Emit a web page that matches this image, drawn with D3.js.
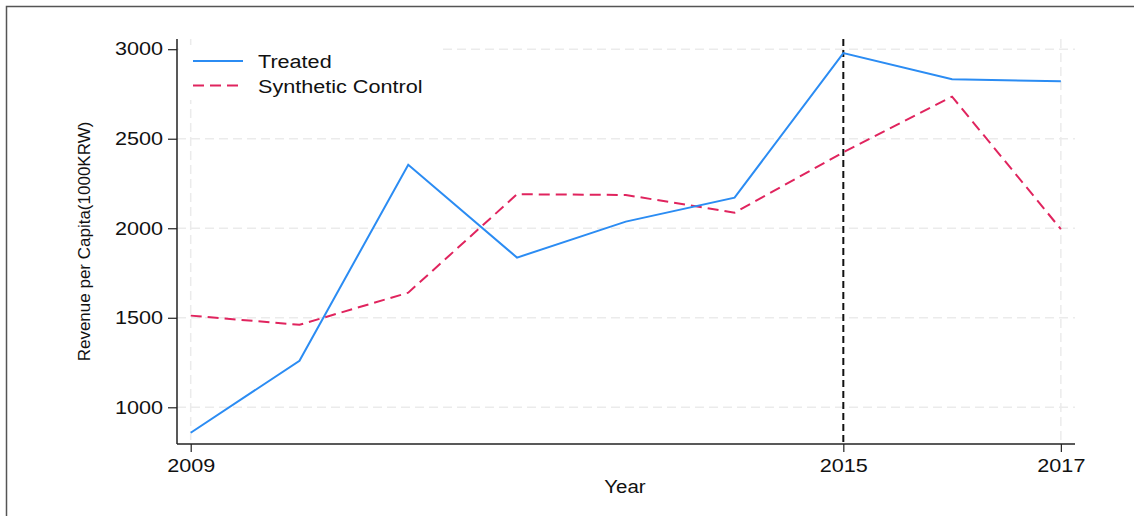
<!DOCTYPE html>
<html>
<head>
<meta charset="utf-8">
<script src="https://cdn.jsdelivr.net/npm/d3@7"></script>
<style>
  html, body { margin: 0; padding: 0; background: #fff; }
  svg { display: block; font-family: "Liberation Sans", Arial, sans-serif; }
</style>
</head>
<body>
<svg id="chart" width="1134" height="516"></svg>
<script>
// Revenue per capita, treated region vs. synthetic control
const years = [2009, 2010, 2011, 2012, 2013, 2014, 2015, 2016, 2017];
const treated = [858, 1260, 2355, 1836, 2037, 2171, 2978, 2832, 2821];
const synthetic = [1512, 1461, 1640, 2190, 2186, 2087, 2424, 2735, 1995];
const yTicks = [1000, 1500, 2000, 2500, 3000];
const xTicks = [2009, 2015, 2017];
const treatmentYear = 2015;
const seriesNames = ["Treated", "Synthetic Control"];

const svg = d3.select("#chart");
const W = 1134, H = 516;
const FONT = "Liberation Sans, Arial, sans-serif";

// widen text glyphs horizontally by a factor
function widen(sel, factor) {
  sel.each(function () {
    const w = this.getComputedTextLength();
    d3.select(this).attr("textLength", w * factor).attr("lengthAdjust", "spacingAndGlyphs");
  });
}

// outer frame
svg.append("rect").attr("x", 6.5).attr("y", 6.5).attr("width", W).attr("height", H)
  .attr("fill", "none").attr("stroke", "#555").attr("stroke-width", 1.5);

const plotLeft = 177, plotRight = 1075, plotTop = 39, plotBottom = 444;

const x = d3.scaleLinear().domain([2008.874, 2017.13]).range([plotLeft, plotRight]);
const y = d3.scaleLinear().domain([795, 3057]).range([plotBottom, plotTop]);

const grid = svg.append("g");
// horizontal gridlines
grid.selectAll("line.h").data(yTicks).join("line")
  .attr("x1", plotLeft).attr("x2", plotRight)
  .attr("y1", d => y(d)).attr("y2", d => y(d))
  .attr("stroke", "#ebebeb").attr("stroke-width", 1.5).attr("stroke-dasharray", "9,5");
// vertical gridlines at the first and last year ticks
grid.selectAll("line.v").data([2009, 2017]).join("line")
  .attr("x1", d => x(d)).attr("x2", d => x(d))
  .attr("y1", plotTop).attr("y2", plotBottom)
  .attr("stroke", "#ebebeb").attr("stroke-width", 1.5).attr("stroke-dasharray", "9,5");

// axes
const yAxis = d3.axisLeft(y).tickValues(yTicks).tickSize(9).tickPadding(5).tickFormat(d3.format("d"));
const gy = svg.append("g").attr("transform", `translate(${plotLeft},0)`).call(yAxis);
gy.select(".domain").attr("d", `M0,${plotTop}V${plotBottom}`).attr("stroke", "#222").attr("stroke-width", 1.5);
gy.selectAll(".tick line").attr("stroke", "#222").attr("stroke-width", 1.2);
gy.selectAll(".tick text").attr("font-size", 18).attr("fill", "#111").attr("font-family", FONT)
  .call(widen, 1.2);

const xAxis = d3.axisBottom(x).tickValues(xTicks).tickSize(8).tickPadding(5).tickFormat(d3.format("d"));
const gx = svg.append("g").attr("transform", `translate(0,${plotBottom})`).call(xAxis);
gx.select(".domain").attr("d", `M${plotLeft},0H${plotRight}`).attr("stroke", "#222").attr("stroke-width", 1.5);
gx.selectAll(".tick line").attr("stroke", "#222").attr("stroke-width", 1.2);
gx.selectAll(".tick text").attr("font-size", 18).attr("fill", "#111").attr("font-family", FONT)
  .attr("y", 27.5).attr("dy", 0)
  .call(widen, 1.2);

// axis titles
svg.append("text").attr("x", 625).attr("y", 493).attr("text-anchor", "middle")
  .attr("font-size", 17.5).attr("fill", "#111").text("Year")
  .call(widen, 1.17);
svg.append("text").attr("transform", `translate(90,${(plotTop + plotBottom) / 2}) rotate(-90)`)
  .attr("text-anchor", "middle").attr("font-size", 17).attr("fill", "#111")
  .text("Revenue per Capita(1000KRW)");

// treatment year marker
svg.append("line").attr("x1", x(treatmentYear)).attr("x2", x(treatmentYear))
  .attr("y1", plotTop).attr("y2", plotBottom)
  .attr("stroke", "#111").attr("stroke-width", 2).attr("stroke-dasharray", "7,4");

const line = d3.line().x((d, i) => x(years[i])).y(d => y(d));

svg.append("path").datum(synthetic).attr("d", line)
  .attr("fill", "none").attr("stroke", "#e0245e").attr("stroke-width", 2)
  .attr("stroke-dasharray", "11,6");
svg.append("path").datum(treated).attr("d", line)
  .attr("fill", "none").attr("stroke", "#2b8cf3").attr("stroke-width", 2);

// legend with white background
const lg = svg.append("g");
lg.append("rect").attr("x", 179).attr("y", 45).attr("width", 262).attr("height", 55).attr("fill", "#fff");
const styles = [
  { color: "#2b8cf3", dash: null },
  { color: "#e0245e", dash: "11,6" }
];
seriesNames.forEach((name, i) => {
  const cy = 61 + i * 24.5;
  lg.append("line").attr("x1", 193).attr("x2", 243).attr("y1", cy).attr("y2", cy)
    .attr("stroke", styles[i].color).attr("stroke-width", 2)
    .attr("stroke-dasharray", styles[i].dash);
  lg.append("text").attr("x", 258).attr("y", cy + 7).attr("font-size", 18).attr("fill", "#111")
    .text(name)
    .call(widen, 1.2);
});
</script>
</body>
</html>
